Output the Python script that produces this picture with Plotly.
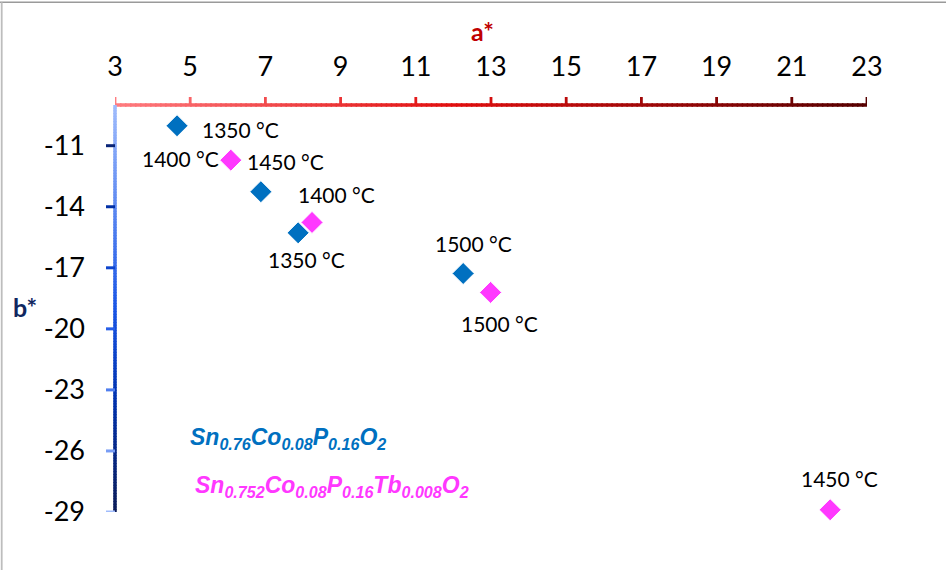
import plotly.graph_objects as go

# ---------------- data ----------------
a_blue = [4.65, 6.88, 7.87, 12.26]
b_blue = [-10.02, -13.26, -15.28, -17.28]
t_blue = ["1350 °C", "1450 °C", "1350 °C", "1500 °C"]

a_mag = [6.08, 8.24, 12.99, 22.02]
b_mag = [-11.71, -14.77, -18.21, -28.89]
t_mag = ["1400 °C", "1400 °C", "1500 °C", "1450 °C"]

x_ticks = [3, 5, 7, 9, 11, 13, 15, 17, 19, 21, 23]
y_ticks = [-11, -14, -17, -20, -23, -26, -29]
x_ticktext = [str(v) for v in x_ticks]
y_ticktext = [str(v) for v in y_ticks]

name_blue = "Sn<sub>0.76</sub>Co<sub>0.08</sub>P<sub>0.16</sub>O<sub>2</sub>"
name_mag = "Sn<sub>0.752</sub>Co<sub>0.08</sub>P<sub>0.16</sub>Tb<sub>0.008</sub>O<sub>2</sub>"

# ---------------- style ----------------
BLUE = "#0070C0"
MAG = "#FF38FF"
W, H = 946, 570
ML, MR, MT, MB = 115, 79, 105, 58
PW, PH = W - ML - MR, H - MT - MB
XR = [3, 23]
YR = [-29, -9]

# label offsets in px (dx right, dy up)
off_blue = [(63, -5), (25, 29), (8, -28), (10, 29)]
off_mag = [(-50, 1), (24, 27), (9, -32), (9, 30)]

X_STOPS = [(0.0, (255, 124, 128)), (0.45, (225, 15, 15)), (1.0, (85, 0, 0))]
Y_STOPS = [(0.0, (160, 188, 252)), (0.5, (25, 85, 230)), (0.72, (0, 50, 175)), (1.0, (12, 28, 88))]


def grad(stops, t):
    t = max(0.0, min(1.0, t))
    for (t0, c0), (t1, c1) in zip(stops[:-1], stops[1:]):
        if t <= t1:
            f = (t - t0) / (t1 - t0) if t1 > t0 else 0
            c = [round(c0[k] + (c1[k] - c0[k]) * f) for k in range(3)]
            return "rgb(%d,%d,%d)" % tuple(c)
    return "rgb(%d,%d,%d)" % stops[-1][1]


fig = go.Figure()
fig.add_trace(go.Scatter(
    x=a_blue, y=b_blue, mode="markers", name=name_blue, cliponaxis=False,
    marker=dict(symbol="diamond", size=17, color=BLUE, line=dict(color="white", width=1)),
))
fig.add_trace(go.Scatter(
    x=a_mag, y=b_mag, mode="markers", name=name_mag, cliponaxis=False,
    marker=dict(symbol="diamond", size=17, color=MAG, line=dict(color="white", width=1)),
))

shapes = []
N = 150
# x axis line (top) with gradient
for i in range(N):
    x0 = XR[0] + (XR[1] - XR[0]) * i / N
    x1 = XR[0] + (XR[1] - XR[0]) * (i + 1.3) / N
    x1 = min(x1, XR[1])
    shapes.append(dict(type="line", xref="x", yref="paper", x0=x0, x1=x1, y0=1, y1=1,
                       line=dict(color=grad(X_STOPS, (i + 0.5) / N), width=3.5)))
# y axis line (left) with gradient, light at top
for i in range(N):
    y0 = 1 - i / N
    y1 = max(0, 1 - (i + 1.3) / N)
    shapes.append(dict(type="line", xref="paper", yref="paper", x0=0, x1=0, y0=y0, y1=y1,
                       line=dict(color=grad(Y_STOPS, (i + 0.5) / N), width=3.5)))
# x ticks (upward)
for v in x_ticks:
    t = (v - XR[0]) / (XR[1] - XR[0])
    shapes.append(dict(type="line", xref="x", yref="paper", x0=v, x1=v, y0=1, y1=1 + 8 / PH,
                       line=dict(color=grad(X_STOPS, t), width=2.8)))
# y ticks (leftward), reversed gradient
for v in y_ticks:
    t = (YR[1] - v) / (YR[1] - YR[0])
    shapes.append(dict(type="line", xref="paper", yref="y", x0=-9 / PW, x1=0, y0=v, y1=v,
                       line=dict(color=grad(Y_STOPS, 1 - t), width=3)))
# outer border (top and left)
px = lambda p: (p - ML) / PW
py = lambda p: (H - MB - p) / PH
shapes.append(dict(type="line", xref="paper", yref="paper", x0=px(0), x1=px(W), y0=py(2.3), y1=py(2.3),
                   line=dict(color="#9a9a9a", width=1.5)))
shapes.append(dict(type="line", xref="paper", yref="paper", x0=px(1.7), x1=px(1.7), y0=py(2.3), y1=py(H),
                   line=dict(color="#bdbdbd", width=1.8)))

annotations = []
for xs, ys, ts, offs in [(a_blue, b_blue, t_blue, off_blue), (a_mag, b_mag, t_mag, off_mag)]:
    for x, y, t, (dx, dy) in zip(xs, ys, ts, offs):
        annotations.append(dict(x=x, y=y, xref="x", yref="y", text=t, showarrow=False,
                                xanchor="center", yanchor="middle",
                                xshift=dx, yshift=dy + 1,
                                font=dict(family="Lato", size=21, color="black")))
# axis titles
annotations.append(dict(x=px(482), y=py(31), xref="paper", yref="paper", text="<b>a*</b>",
                        xanchor="center", yanchor="middle",
                        showarrow=False, font=dict(family="Lato", size=25, color="#C00000")))
annotations.append(dict(x=px(25), y=py(307), xref="paper", yref="paper", text="<b>b*</b>",
                        xanchor="center", yanchor="middle",
                        showarrow=False, font=dict(family="Lato", size=25, color="#10275F")))
# series texts (legend-like)
annotations.append(dict(x=px(188), y=py(438), xref="paper", yref="paper", text="<b><i>" + name_blue + "</i></b>",
                        xanchor="left", yanchor="middle", showarrow=False,
                        font=dict(family="Liberation Sans", size=23, color=BLUE)))
annotations.append(dict(x=px(193), y=py(486), xref="paper", yref="paper", text="<b><i>" + name_mag + "</i></b>",
                        xanchor="left", yanchor="middle", showarrow=False,
                        font=dict(family="Liberation Sans", size=23, color=MAG)))

fig.update_layout(
    width=W, height=H,
    margin=dict(l=ML, r=MR, t=MT, b=MB),
    paper_bgcolor="white", plot_bgcolor="white",
    showlegend=False,
    shapes=shapes, annotations=annotations,
    xaxis=dict(range=XR, side="top", tickvals=x_ticks, ticktext=x_ticktext, ticks="",
               showline=False, showgrid=False, zeroline=False, ticklabelstandoff=23,
               tickfont=dict(family="Lato", size=27, color="black")),
    yaxis=dict(range=YR, tickvals=y_ticks, ticktext=y_ticktext, ticks="",
               showline=False, showgrid=False, zeroline=False, ticklabelstandoff=29,
               tickfont=dict(family="Lato", size=27, color="black")),
)

fig.write_html("out.html")
